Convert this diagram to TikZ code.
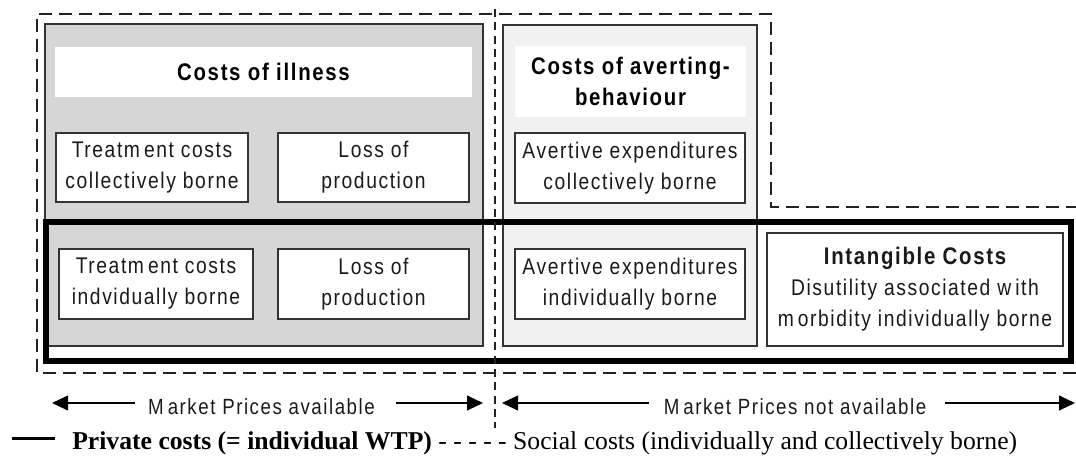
\documentclass[tikz,border=0pt]{standalone}
\usepackage{fontspec}
\setmainfont{Liberation Serif}
\newfontfamily\boxfont[FakeStretch=0.85,LetterSpace=7]{Liberation Sans}
\usetikzlibrary{arrows.meta}
\definecolor{illgray}{HTML}{D6D6D6}
\definecolor{avgray}{HTML}{F1F1F1}
\definecolor{edgegray}{HTML}{333333}
\definecolor{txtcol}{HTML}{1A1A1A}
\definecolor{dashcol}{HTML}{222222}
\tikzset{
  panel/.style={draw=edgegray, line width=1.1pt, inner sep=0pt},
  titlestrip/.style={fill=white, inner sep=0pt, align=center, text=black,
    font=\boxfont\bfseries\fontsize{18}{23.25}\selectfont},
  costbox/.style={draw=edgegray, line width=1.1pt, fill=white, align=center,
    inner sep=0pt, text=txtcol, font=\boxfont\fontsize{17}{23.25}\selectfont},
  privframe/.style={draw=black, line width=4.5pt, inner sep=0pt},
  socdash/.style={draw=dashcol, line width=1.1pt, dash pattern=on 9.75pt off 5.25pt},
  divdash/.style={draw=dashcol, line width=1.1pt, dash pattern=on 6pt off 4pt},
  mlabel/.style={inner sep=0pt, text=txtcol, font=\boxfont\fontsize{16.5}{19}\selectfont},
  marrow/.style={draw=black, line width=1.5pt, -{Triangle[length=12pt,width=11pt]}},
  legendtext/.style={inner sep=0pt, text=black, font=\fontsize{19.25}{22}\selectfont},
}
\begin{document}
\begin{tikzpicture}[x=0.75pt,y=-0.75pt]
\useasboundingbox (0,0) rectangle (1076,456);

% shaded panels
\node[panel, fill=illgray, minimum width=328.5pt, minimum height=241.5pt] (illpanel) at (264,185) {};
\node[panel, fill=avgray, minimum width=190.5pt, minimum height=240.75pt] (avpanel) at (630,185.5) {};

% titles
\node[titlestrip, minimum width=312.75pt, minimum height=37.5pt] (illtitle) at (263.5,72) {Costs of illness};
\node[titlestrip, minimum width=173.25pt, minimum height=53.25pt] (avtitle) at (630.5,81.5) {Costs of averting-\\behaviour};

% top row
\node[costbox, minimum width=144pt, minimum height=51.75pt] (treatcoll) at (152,167.5) {Treatm\kern3pt ent costs\\collectively borne};
\node[costbox, minimum width=143.25pt, minimum height=51.75pt] (losstop) at (373.5,167.5) {Loss of\\production};
\node[costbox, minimum width=172.5pt, minimum height=52.5pt] (avcoll) at (630,168) {Avertive expenditures\\collectively borne};

% bottom row
\node[costbox, minimum width=145.5pt, minimum height=52.5pt] (treatind) at (156,284) {Treatm\kern3pt ent costs\\indvidually borne};
\node[costbox, minimum width=143.25pt, minimum height=52.5pt] (lossbot) at (373.5,284) {Loss of\\production};
\node[costbox, minimum width=172.5pt, minimum height=52.5pt] (avind) at (630,284) {Avertive expenditures\\individually borne};
\node[costbox, minimum width=222pt, minimum height=84.75pt] (intang) at (915,289.5)
  {{\bfseries\fontsize{18}{24}\selectfont Intangible Costs}\\Disutility associated w\kern3pt ith\\m\kern3pt orbidity individually borne};

% private costs frame
\node[privframe, minimum width=768.75pt, minimum height=104.25pt] (private) at (558.5,291.5) {};

% social costs dashed outline
\coordinate (s1) at (1076,373);
\coordinate (s2) at (37,373);
\coordinate (s3) at (37,14);
\coordinate (s4) at (771,14);
\coordinate (s5) at (771,207);
\coordinate (s6) at (1076,207);
\draw[socdash] (s1) -- (s2) -- (s3) -- (s4) -- (s5) -- (s6);

% divider
\coordinate (dvtop) at (495,9);
\coordinate (dvbot) at (495,428);
\draw[divdash] (dvtop) -- (dvbot);

% market price arrows
\node[mlabel, anchor=base] (mpa) at (261.5,414) {M\kern3pt arket Prices available};
\node[mlabel, anchor=base] (mpna) at (795,414) {M\kern3pt arket Prices not available};
\coordinate (tipa1) at (52,403);
\coordinate (tipa2) at (483,403);
\coordinate (tipb1) at (502,403);
\coordinate (tipb2) at (1075,403);
\draw[marrow] ([xshift=-10pt]mpa.west |- tipa1) -- (tipa1);
\draw[marrow] ([xshift=16pt]mpa.east |- tipa2) -- (tipa2);
\draw[marrow] ([xshift=-11pt]mpna.west |- tipb1) -- (tipb1);
\draw[marrow] ([xshift=14pt]mpna.east |- tipb2) -- (tipb2);

% legend
\coordinate (lg1) at (12,438);
\coordinate (lg2) at (55,438);
\draw[line width=2.25pt] (lg1) -- (lg2);
\node[legendtext, anchor=base west] (legend) at (72,450)
  {\textbf{Private costs (= individual WTP)} - - - - - Social costs (individually and collectively borne)};
\end{tikzpicture}
\end{document}
